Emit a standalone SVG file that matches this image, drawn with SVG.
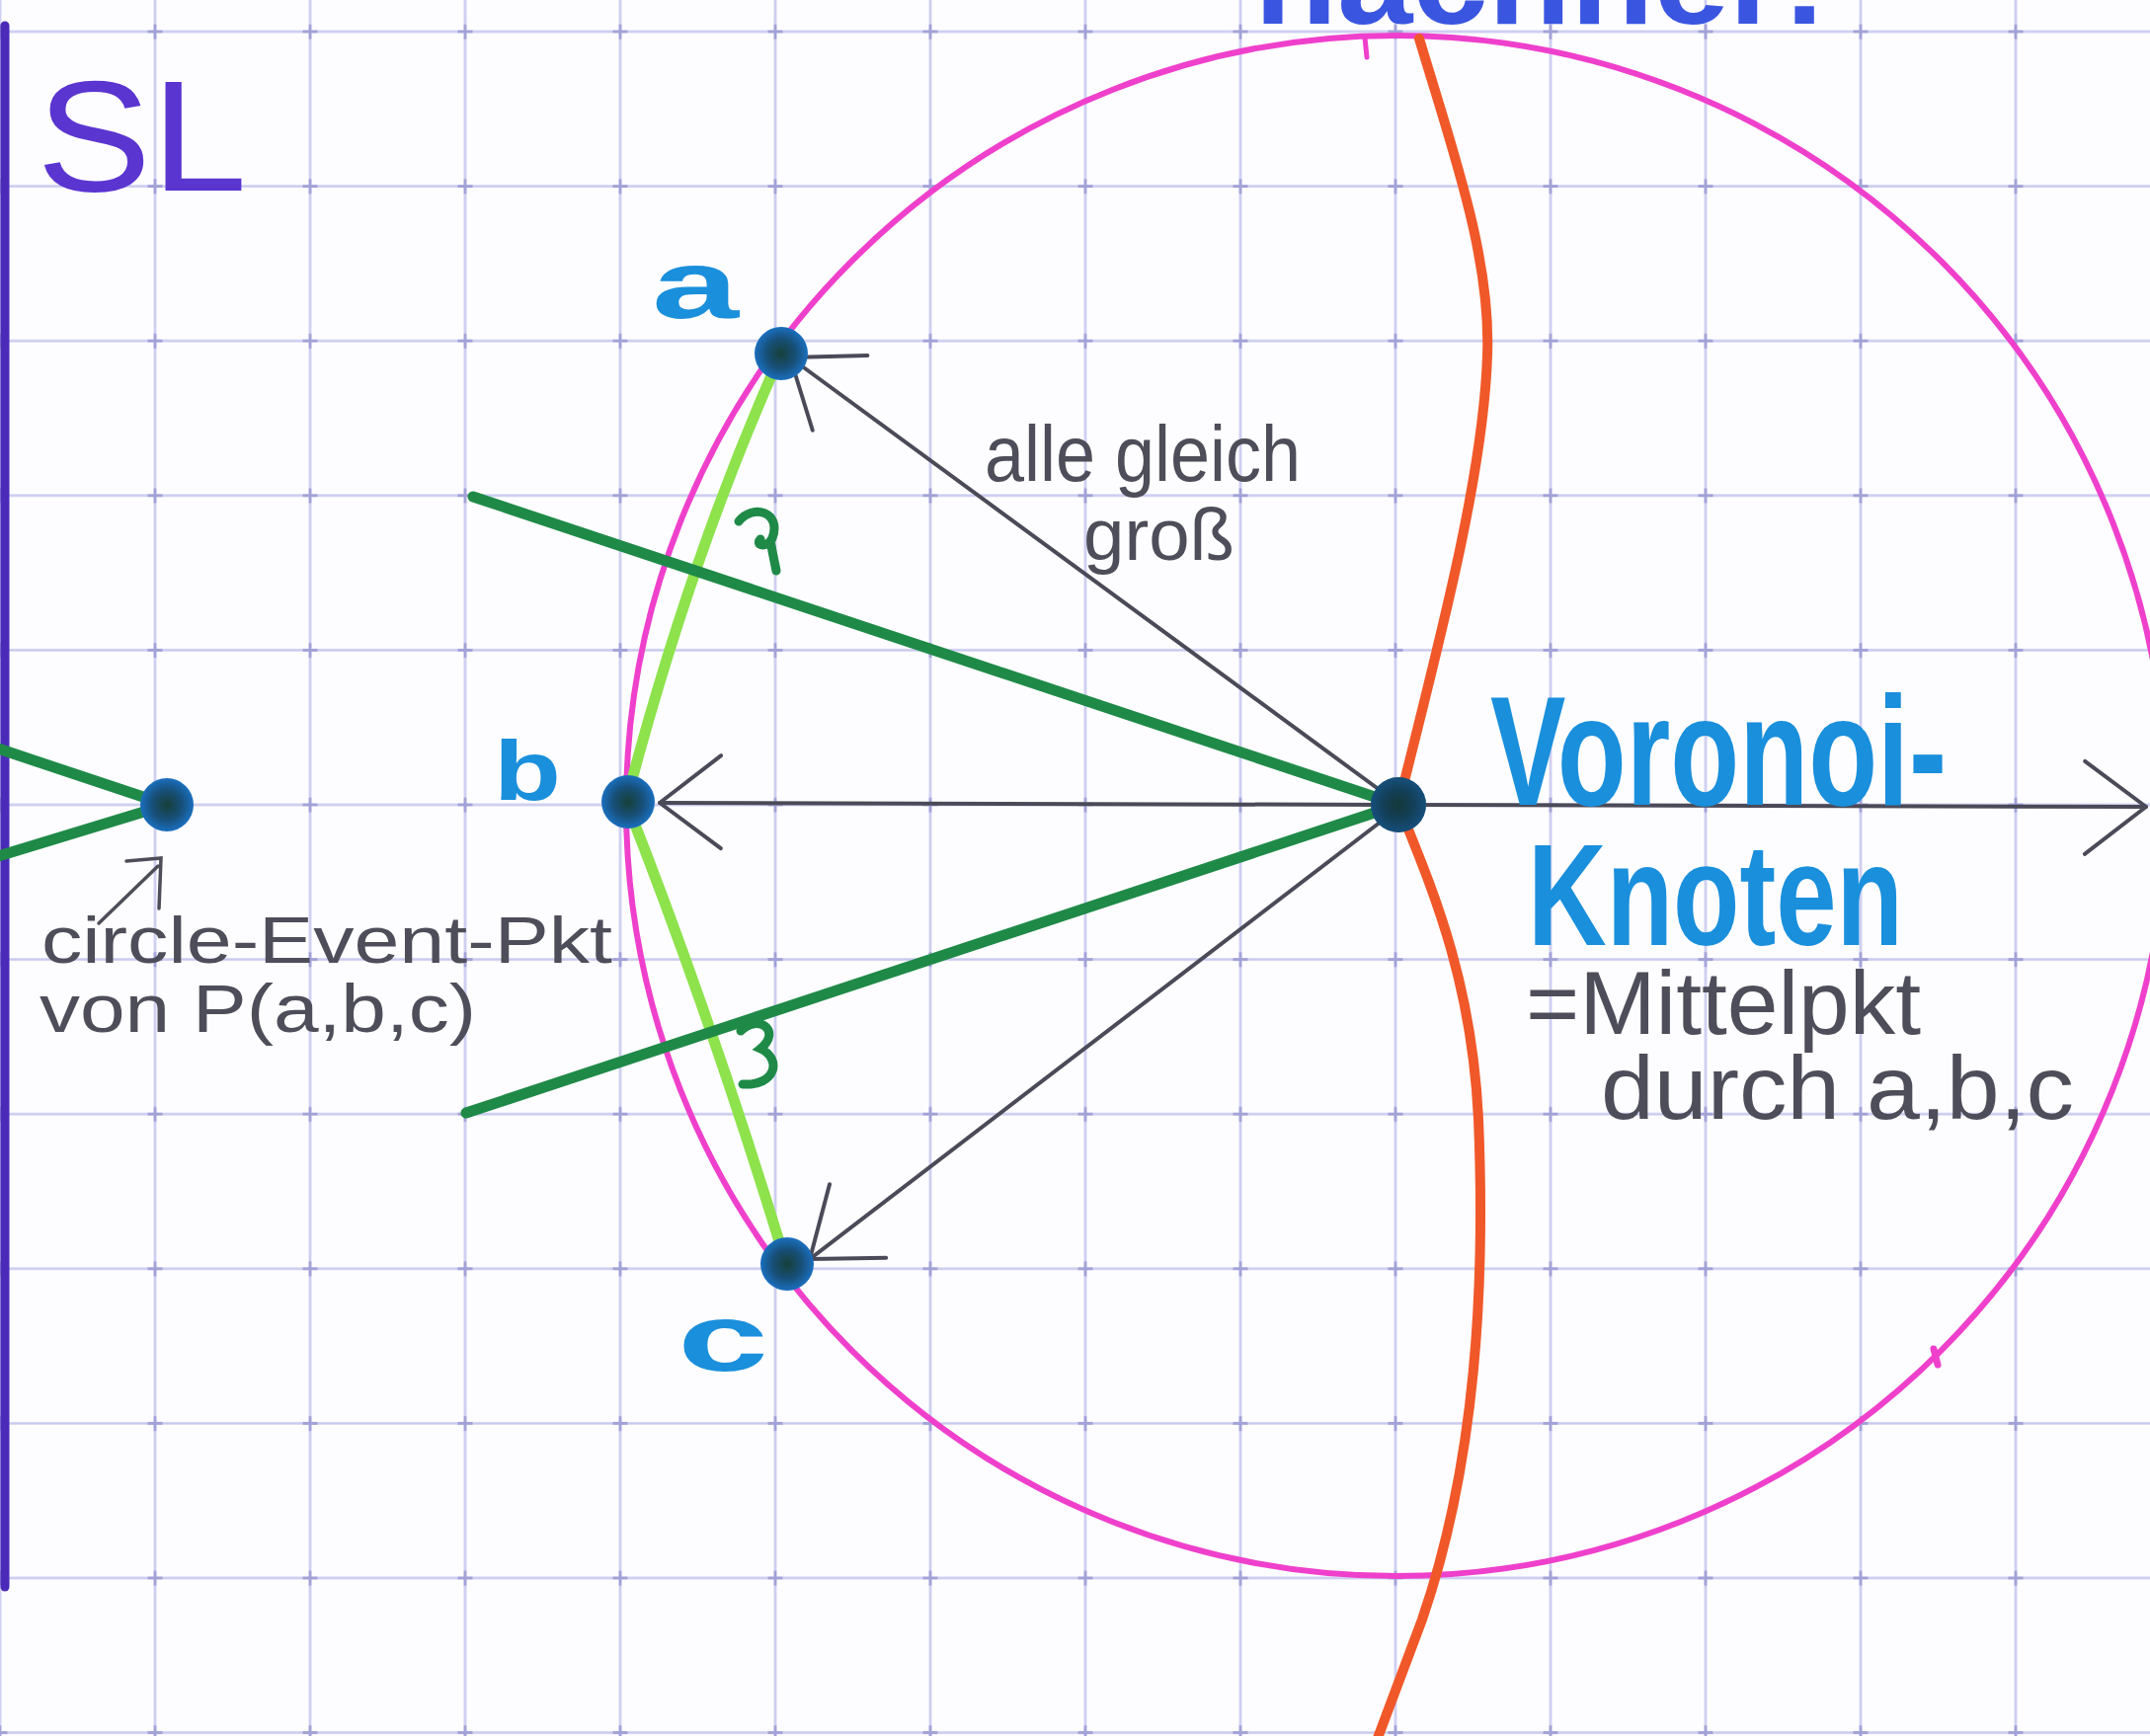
<svg xmlns="http://www.w3.org/2000/svg" width="2177" height="1758" viewBox="0 0 2177 1758">
  <style>
    .hand { font-family: "Liberation Sans", "DejaVu Sans", sans-serif; }
    .grey { fill: #4e4e5a; }
    .cyan { fill: #1a8fdc; font-weight: bold; }
    .arrow { stroke: #4a4a58; stroke-width: 4; fill: none; stroke-linecap: round; marker-end: url(#chev); }
    .dkgreen { stroke: #1f8a48; stroke-width: 11; fill: none; stroke-linecap: round; }
    .ltgreen { stroke: #8ee24c; stroke-width: 11; fill: none; stroke-linecap: round; }
    .dot { fill: url(#dotg); }
  </style>
  <defs>
    <pattern id="grid" patternUnits="userSpaceOnUse" x="78.5" y="-46.3" width="157" height="156.6">
      <line x1="78.5" y1="0" x2="78.5" y2="156.6" stroke="#c9c9ef" stroke-width="2.5"/>
      <line x1="0" y1="78.3" x2="157" y2="78.3" stroke="#c9c9ef" stroke-width="2.5"/>
      <line x1="71" y1="78.3" x2="86" y2="78.3" stroke="#a2a2d8" stroke-width="3"/>
      <line x1="78.5" y1="71" x2="78.5" y2="86" stroke="#a2a2d8" stroke-width="3"/>
    </pattern>
    <radialGradient id="dotg">
      <stop offset="0" stop-color="#17403a"/>
      <stop offset="0.55" stop-color="#174f78"/>
      <stop offset="1" stop-color="#1a6fbe"/>
    </radialGradient>
    <marker id="chev" markerUnits="userSpaceOnUse" viewBox="-80 -60 90 120" refX="0" refY="0" markerWidth="90" markerHeight="120" orient="auto">
      <path d="M -62 -46 L 0 0 L -62 48" fill="none" stroke="#4a4a58" stroke-width="4" stroke-linecap="round" stroke-linejoin="round"/>
    </marker>
  </defs>

  <rect width="2177" height="1758" fill="#fdfdff"/>
  <rect width="2177" height="1758" fill="url(#grid)"/>

  <!-- sweep line -->
  <g id="sweepline">
    <line x1="5" y1="26" x2="5" y2="1607" stroke="#4a2ab8" stroke-width="9" stroke-linecap="round"/>
    <text class="hand" x="37" y="193" font-size="160" fill="#5a35d0" textLength="213" lengthAdjust="spacingAndGlyphs">SL</text>
  </g>

  <!-- title (cut off at the top edge) -->
  <g id="title">
    <text class="hand" x="1270" y="24" font-size="130" font-weight="bold" fill="#3a55e0" textLength="580" lengthAdjust="spacingAndGlyphs">nachher:</text>
  </g>

  <!-- circle -->
  <g id="circumcircle">
    <circle cx="1414" cy="816" r="780" fill="none" stroke="#ef40cc" stroke-width="6"/>
    <path d="M 1382 38 L 1384 58" stroke="#ef40cc" stroke-width="5" stroke-linecap="round"/>
    <path d="M 1958 1366 L 1962 1382" stroke="#ef40cc" stroke-width="7" stroke-linecap="round"/>
  </g>

  <!-- Voronoi edge (orange) -->
  <g id="voronoi-edge">
    <path d="M 1437 39 C 1470 150, 1510 260, 1506 360 C 1502 480, 1460 640, 1416 815" fill="none" stroke="#f0582a" stroke-width="10" stroke-linecap="round"/>
    <path d="M 1416 815 C 1450 900, 1490 990, 1497 1133 C 1504 1300, 1495 1480, 1440 1640 L 1395 1760" fill="none" stroke="#f0582a" stroke-width="10" stroke-linecap="round"/>
  </g>

  <!-- connectors -->
  <g id="connectors">
    <path class="ltgreen" d="M 791 358 Q 700 560 634 812"/>
    <path class="ltgreen" d="M 634 812 Q 720 1030 796 1280"/>
    <line class="dkgreen" x1="479" y1="503" x2="1416" y2="815"/>
    <line class="dkgreen" x1="472" y1="1127" x2="1416" y2="815"/>
    <line class="dkgreen" x1="-5" y1="757" x2="169" y2="815"/>
    <line class="dkgreen" x1="-5" y1="868" x2="169" y2="815"/>
    <path d="M 748 528 C 762 510, 792 518, 782 545 C 776 556, 764 552, 770 546 M 780 548 L 786 578" fill="none" stroke="#1f8a48" stroke-width="9" stroke-linecap="round"/>
    <path d="M 750 1044 C 768 1026, 792 1044, 770 1062 C 792 1072, 786 1100, 752 1098" fill="none" stroke="#1f8a48" stroke-width="9" stroke-linecap="round"/>
    <line class="arrow" x1="1412" y1="811" x2="800" y2="362"/>
    <line class="arrow" x1="1410" y1="815" x2="668" y2="813"/>
    <line class="arrow" x1="1410" y1="823" x2="820" y2="1275"/>
    <line class="arrow" x1="1420" y1="815" x2="2173" y2="817"/>
    <path d="M 100 935 L 160 877 M 128 872 L 163 869 L 161 920" fill="none" stroke="#4e4e5a" stroke-width="3.5" stroke-linecap="round"/>
  </g>

  <!-- points -->
  <g id="point-a">
    <circle class="dot" cx="791" cy="358" r="27"/>
    <text class="hand cyan" x="660" y="322" font-size="98" textLength="88" lengthAdjust="spacingAndGlyphs">a</text>
  </g>
  <g id="point-b">
    <circle class="dot" cx="636" cy="812" r="27"/>
    <text class="hand cyan" x="500" y="810" font-size="86" textLength="68" lengthAdjust="spacingAndGlyphs">b</text>
  </g>
  <g id="point-c">
    <circle class="dot" cx="797" cy="1280" r="27"/>
    <text class="hand cyan" x="686" y="1388" font-size="96" textLength="92" lengthAdjust="spacingAndGlyphs">c</text>
  </g>
  <g id="circle-event-point">
    <circle class="dot" cx="169" cy="815" r="27"/>
    <text class="hand grey" x="42" y="975" font-size="66" textLength="578" lengthAdjust="spacingAndGlyphs">circle-Event-Pkt</text>
    <text class="hand grey" x="40" y="1045" font-size="68" textLength="442" lengthAdjust="spacingAndGlyphs">von P(a,b,c)</text>
  </g>
  <g id="voronoi-node">
    <circle cx="1416" cy="815" r="28" fill="#10303a"/>
    <circle cx="1416" cy="815" r="28" fill="url(#dotg)" opacity="0.5"/>
    <text class="hand cyan" x="1509" y="815" font-size="158" textLength="462" lengthAdjust="spacingAndGlyphs">Voronoi-</text>
    <text class="hand cyan" x="1547" y="957" font-size="146" fill="#1886d2" textLength="380" lengthAdjust="spacingAndGlyphs">Knoten</text>
    <text class="hand grey" x="1545" y="1047" font-size="90" textLength="400" lengthAdjust="spacingAndGlyphs">=Mittelpkt</text>
    <text class="hand grey" x="1621" y="1133" font-size="90" textLength="479" lengthAdjust="spacingAndGlyphs">durch a,b,c</text>
  </g>
  <g id="label-equal">
    <text class="hand grey" x="997" y="487" font-size="80" textLength="320" lengthAdjust="spacingAndGlyphs">alle gleich</text>
    <text class="hand grey" x="1097" y="567" font-size="74" textLength="153" lengthAdjust="spacingAndGlyphs">groß</text>
  </g>
</svg>
